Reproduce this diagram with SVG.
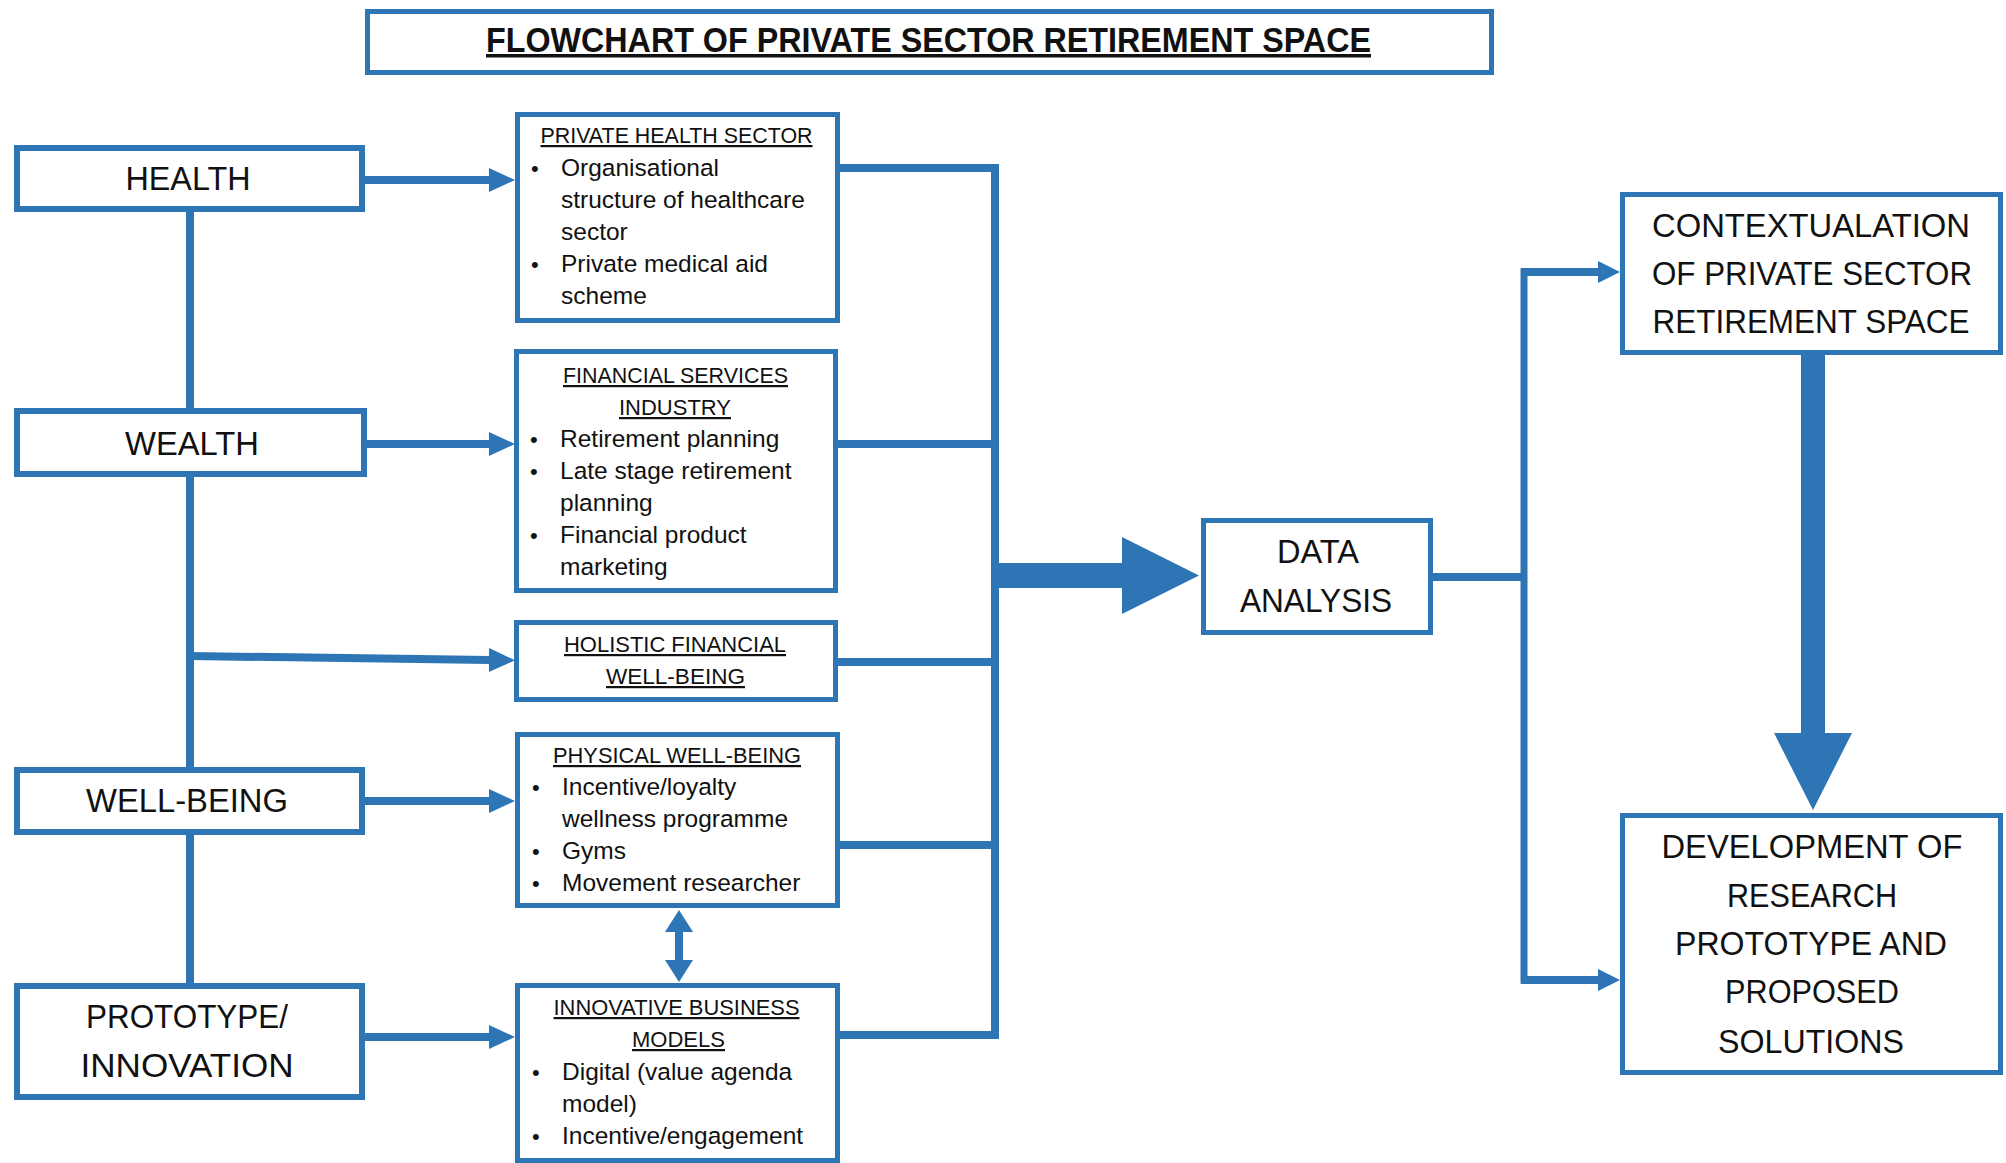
<svg xmlns="http://www.w3.org/2000/svg" width="2006" height="1163" viewBox="0 0 2006 1163">
<style>
.bx{fill:#fff;stroke:#2E75B6;stroke-width:5}
.bxl{fill:#fff;stroke:#2E75B6;stroke-width:6}
.ln{fill:none;stroke:#2E75B6;stroke-width:8}
.fl{fill:#2E75B6}
text{font-family:"Liberation Sans",Arial,sans-serif;fill:#111}
.big{font-size:33.5px;text-anchor:middle}
.ttl{font-size:22px;text-anchor:middle;text-decoration:underline}
.bt{font-size:24.5px}
.bu{font-size:22px}
</style>
<defs>
<marker id="ah" viewBox="0 0 26 24" refX="1" refY="12" markerWidth="26" markerHeight="24" markerUnits="userSpaceOnUse" orient="auto"><path d="M0,0 L26,12 L0,24 Z" fill="#2E75B6"/></marker>
<marker id="ahr" viewBox="0 0 22 22" refX="1" refY="11" markerWidth="22" markerHeight="22" markerUnits="userSpaceOnUse" orient="auto"><path d="M0,0 L22,11 L0,22 Z" fill="#2E75B6"/></marker>
<marker id="ahv" viewBox="0 0 22 28" refX="1" refY="14" markerWidth="22" markerHeight="28" markerUnits="userSpaceOnUse" orient="auto-start-reverse"><path d="M0,0 L22,14 L0,28 Z" fill="#2E75B6"/></marker>
</defs>
<rect width="2006" height="1163" fill="#fff"/>

<g id="connectors">
<path class="ln" d="M190,212 V408"/>
<path class="ln" d="M190,477 V767"/>
<path class="ln" d="M190,835 V983"/>
<path class="ln" d="M365,180 H490" marker-end="url(#ah)"/>
<path class="ln" d="M367,444 H490" marker-end="url(#ah)"/>
<path class="ln" d="M190,656 L490,660" marker-end="url(#ah)"/>
<path class="ln" d="M365,801 H490" marker-end="url(#ah)"/>
<path class="ln" d="M365,1037 H490" marker-end="url(#ah)"/>
<path class="ln" d="M679,931 V961" marker-start="url(#ahv)" marker-end="url(#ahv)"/>
<path class="ln" d="M840,168 H995 V1035 H840"/>
<path class="ln" d="M838,444 H995"/>
<path class="ln" d="M838,662 H995"/>
<path class="ln" d="M840,845 H995"/>
<polygon class="fl" points="995,563 1122,563 1122,537 1199,575.5 1122,614 1122,588 995,588"/>
<path class="ln" d="M1433,577 H1524"/>
<path class="ln" style="stroke-width:7" d="M1524,268.5 V983.5"/>
<path class="ln" d="M1521,272 H1599" marker-end="url(#ahr)"/>
<path class="ln" d="M1521,980 H1599" marker-end="url(#ahr)"/>
<polygon class="fl" points="1801,355 1825,355 1825,733 1852,733 1813,810 1774,733 1801,733"/>
</g>

<g id="title">
<rect class="bx" x="367.5" y="11.5" width="1124" height="61"/>
<text x="928.5" y="52" style="font-size:35px;font-weight:bold;text-anchor:middle;text-decoration:underline" textLength="885" lengthAdjust="spacingAndGlyphs">FLOWCHART OF PRIVATE SECTOR RETIREMENT SPACE</text>
</g>

<g id="health">
<rect class="bxl" x="17" y="148" width="345" height="61"/>
<text class="big" x="188" y="190" textLength="125" lengthAdjust="spacingAndGlyphs">HEALTH</text>
</g>
<g id="wealth">
<rect class="bxl" x="17" y="411" width="347" height="63"/>
<text class="big" x="192" y="455" textLength="134" lengthAdjust="spacingAndGlyphs">WEALTH</text>
</g>
<g id="wellbeing">
<rect class="bxl" x="17" y="770" width="345" height="62"/>
<text class="big" x="187" y="812" textLength="202" lengthAdjust="spacingAndGlyphs">WELL-BEING</text>
</g>
<g id="prototype">
<rect class="bxl" x="17" y="986" width="345" height="111"/>
<text class="big" x="187" y="1028" textLength="202" lengthAdjust="spacingAndGlyphs">PROTOTYPE/</text>
<text class="big" x="187" y="1077" textLength="213" lengthAdjust="spacingAndGlyphs">INNOVATION</text>
</g>

<g id="private-health-sector">
<rect class="bx" x="517.5" y="114.5" width="320" height="206"/>
<text class="ttl" x="676.5" y="143" textLength="272" lengthAdjust="spacingAndGlyphs">PRIVATE HEALTH SECTOR</text>
<text class="bu" x="531" y="176">•</text>
<text class="bt" x="561" y="176">Organisational</text>
<text class="bt" x="561" y="208">structure of healthcare</text>
<text class="bt" x="561" y="240">sector</text>
<text class="bu" x="531" y="272">•</text>
<text class="bt" x="561" y="272">Private medical aid</text>
<text class="bt" x="561" y="304">scheme</text>
</g>

<g id="financial-services">
<rect class="bx" x="516.5" y="351.5" width="319" height="239"/>
<text class="ttl" x="675.5" y="383" textLength="225" lengthAdjust="spacingAndGlyphs">FINANCIAL SERVICES</text>
<text class="ttl" x="675" y="415" textLength="112" lengthAdjust="spacingAndGlyphs">INDUSTRY</text>
<text class="bu" x="530" y="447">•</text>
<text class="bt" x="560" y="447">Retirement planning</text>
<text class="bu" x="530" y="479">•</text>
<text class="bt" x="560" y="479">Late stage retirement</text>
<text class="bt" x="560" y="511">planning</text>
<text class="bu" x="530" y="543">•</text>
<text class="bt" x="560" y="543">Financial product</text>
<text class="bt" x="560" y="575">marketing</text>
</g>

<g id="holistic">
<rect class="bx" x="516.5" y="622.5" width="319" height="77"/>
<text class="ttl" x="675" y="652" textLength="222" lengthAdjust="spacingAndGlyphs">HOLISTIC FINANCIAL</text>
<text class="ttl" x="675.5" y="684" textLength="139" lengthAdjust="spacingAndGlyphs">WELL-BEING</text>
</g>

<g id="physical">
<rect class="bx" x="517.5" y="734.5" width="320" height="171"/>
<text class="ttl" x="677" y="763" textLength="248" lengthAdjust="spacingAndGlyphs">PHYSICAL WELL-BEING</text>
<text class="bu" x="532" y="795">•</text>
<text class="bt" x="562" y="795">Incentive/loyalty</text>
<text class="bt" x="562" y="827">wellness programme</text>
<text class="bu" x="532" y="859">•</text>
<text class="bt" x="562" y="859">Gyms</text>
<text class="bu" x="532" y="891">•</text>
<text class="bt" x="562" y="891">Movement researcher</text>
</g>

<g id="innovative">
<rect class="bx" x="517.5" y="985.5" width="320" height="175"/>
<text class="ttl" x="676.5" y="1015" textLength="246" lengthAdjust="spacingAndGlyphs">INNOVATIVE BUSINESS</text>
<text class="ttl" x="678.5" y="1047" textLength="93" lengthAdjust="spacingAndGlyphs">MODELS</text>
<text class="bu" x="532" y="1080">•</text>
<text class="bt" x="562" y="1080">Digital (value agenda</text>
<text class="bt" x="562" y="1112">model)</text>
<text class="bu" x="532" y="1144">•</text>
<text class="bt" x="562" y="1144">Incentive/engagement</text>
</g>

<g id="data-analysis">
<rect class="bx" x="1203.5" y="520.5" width="227" height="112"/>
<text class="big" x="1318" y="563" textLength="82" lengthAdjust="spacingAndGlyphs">DATA</text>
<text class="big" x="1316" y="612" textLength="152" lengthAdjust="spacingAndGlyphs">ANALYSIS</text>
</g>

<g id="contextualation">
<rect class="bx" x="1622.5" y="194.5" width="378" height="158"/>
<text class="big" x="1811" y="237" textLength="318" lengthAdjust="spacingAndGlyphs">CONTEXTUALATION</text>
<text class="big" x="1812" y="285" textLength="320" lengthAdjust="spacingAndGlyphs">OF PRIVATE SECTOR</text>
<text class="big" x="1811" y="333" textLength="317" lengthAdjust="spacingAndGlyphs">RETIREMENT SPACE</text>
</g>

<g id="development">
<rect class="bx" x="1622.5" y="815.5" width="378" height="257"/>
<text class="big" x="1812" y="858" textLength="301" lengthAdjust="spacingAndGlyphs">DEVELOPMENT OF</text>
<text class="big" x="1812" y="907" textLength="170" lengthAdjust="spacingAndGlyphs">RESEARCH</text>
<text class="big" x="1811" y="955" textLength="272" lengthAdjust="spacingAndGlyphs">PROTOTYPE AND</text>
<text class="big" x="1812" y="1003" textLength="174" lengthAdjust="spacingAndGlyphs">PROPOSED</text>
<text class="big" x="1811" y="1053" textLength="186" lengthAdjust="spacingAndGlyphs">SOLUTIONS</text>
</g>
</svg>
